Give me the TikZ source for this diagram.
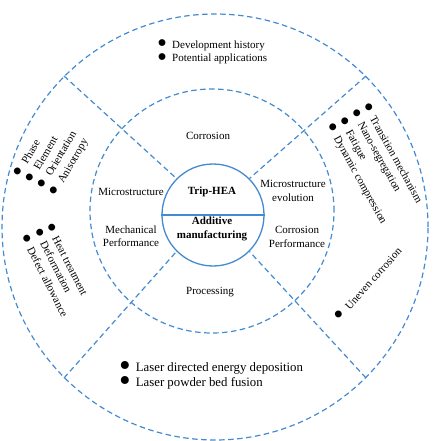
\documentclass[tikz,border=0pt]{standalone}
\usepackage{fontspec}
\setmainfont{Liberation Serif}
\usepackage{graphicx}
\definecolor{ringblue}{RGB}{68,138,208}
\newcommand{\bul}{\raisebox{-0.85ex}{\scalebox{2.6}{\textbullet}}\hspace{5pt}}

\begin{document}
\begin{tikzpicture}[x=1pt, y=-1pt,
  ring/.style={draw=ringblue, line width=1.2pt, dash pattern=on 5.5pt off 3.5pt},
  lbl/.style={font=\fontsize{11}{13.5}\selectfont, align=center, inner sep=0pt},
  item/.style={font=\fontsize{11}{13.5}\selectfont, inner sep=0pt, anchor=west}]
\useasboundingbox (0,0) rectangle (435,441);
% rings
\node[ring, circle, minimum size=426pt, inner sep=0pt] (outer) at (215,227) {};
\node[ring, circle, minimum size=244pt, inner sep=0pt] (inner) at (212,211) {};
\node[draw=ringblue, line width=1.3pt, circle, minimum size=102pt, inner sep=0pt] (hub) at (213,215) {};
\draw[ringblue, line width=1.3pt] (hub.west) -- (hub.east);
% spokes
\draw[ring] (outer.135) -- (hub.135);
\draw[ring] (outer.45) -- (hub.45);
\draw[ring] (outer.225) -- (hub.225);
\draw[ring] (outer.315) -- (hub.315);
% hub text
\node[lbl, font=\fontsize{11}{13.5}\selectfont\bfseries] (trip) at (212,192) {Trip-HEA};
\node[lbl, font=\fontsize{11}{13.5}\selectfont\bfseries] (am) at (212,229) {Additive\\manufacturing};
% inner ring text
\node[lbl] (corr) at (208,136) {Corrosion};
\node[lbl] (micro) at (131,192) {Microstructure};
\node[lbl] (mech) at (131,236) {Mechanical\\Performance};
\node[lbl] (evol) at (293,191) {Microstructure\\evolution};
\node[lbl] (corrperf) at (297,237) {Corrosion\\Performance};
\node[lbl] (proc) at (210,292) {Processing};
% outer ring text
\node[item, align=left] (hist) at (157,53) {\bul Development history\\\bul Potential applications};
\node[item, align=left, font=\fontsize{12.8}{15}\selectfont] (laser) at (119,376.5) {\bul Laser directed energy deposition\\\bul Laser powder bed fusion};
\node[item, rotate=60] (phase) at (18,177) {\bul Phase};
\node[item, rotate=60] (elem) at (30,183) {\bul Element};
\node[item, rotate=60] (orient) at (42,189) {\bul Orientation};
\node[item, rotate=60] (aniso) at (54,196) {\bul Anisotropy};
\node[item, rotate=-63] (heat) at (47,224) {\bul Heat treatment};
\node[item, rotate=-63] (deform) at (35,229) {\bul Deformation};
\node[item, rotate=-63] (defect) at (22,235) {\bul Defect allowance};
\node[item, rotate=-61] (trans) at (364,104) {\bul Transition mechanism};
\node[item, rotate=-61] (nano) at (352,110) {\bul Nano-segregation};
\node[item, rotate=-61] (fat) at (340,118) {\bul Fatigue};
\node[item, rotate=-61] (dyn) at (328,124) {\bul Dynamic compression};
\node[item, rotate=48] (uneven) at (338,320) {\bul Uneven corrosion};
\end{tikzpicture}
\end{document}
